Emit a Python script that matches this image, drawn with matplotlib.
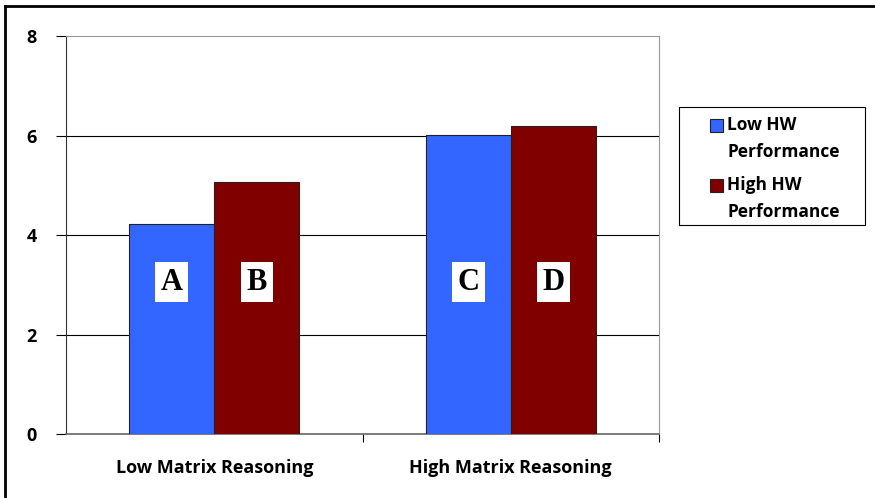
import matplotlib
matplotlib.use("Agg")
import matplotlib.pyplot as plt
from matplotlib.lines import Line2D
from matplotlib.patches import Rectangle
from matplotlib.legend_handler import HandlerBase
from matplotlib.container import BarContainer
import numpy as np

categories = ["Low Matrix Reasoning", "High Matrix Reasoning"]
series_names = ["Low HW\nPerformance", "High HW\nPerformance"]
low_hw = [4.22, 6.01]
high_hw = [5.07, 6.19]
bar_letters = [["A", "C"], ["B", "D"]]
letter_y = 3.05
colors = ["#3366FF", "#800000"]

plt.rcParams['font.family'] = ['Open Sans', 'DejaVu Sans']

fig = plt.figure(figsize=(8.75, 4.98), dpi=100)
ax = fig.add_axes([66/875, 1-434/498, (659-66)/875, (434-36)/498])

x = np.arange(len(categories))
w = 0.2875
for i, (vals, col) in enumerate(zip([low_hw, high_hw], colors)):
    pos = x + (i - 0.5) * w
    ax.bar(pos, vals, width=w, color=col, edgecolor="#222222", linewidth=0.8,
           label=series_names[i], zorder=3)
    for p, letter in zip(pos, bar_letters[i]):
        ax.text(p, letter_y, letter, ha="center", va="center", fontsize=22,
                fontweight="bold", family="Liberation Serif", zorder=4,
                bbox=dict(boxstyle="square,pad=0.18", fc="white", ec="none"))

ax.set_xlim(-0.5, 1.5)
ax.set_ylim(0, 8)
ax.set_yticks([0, 2, 4, 6, 8])
ax.set_yticklabels(["0", "2", "4", "6", "8"], fontsize=13, fontweight="bold")
ax.set_xticks(x)
ax.set_xticklabels(categories, fontsize=13, fontweight="bold")
ax.tick_params(axis="x", which="major", length=0, pad=18)
ax.set_xticks([0.5, 1.5], minor=True)
ax.tick_params(axis="x", which="minor", length=6, direction="out", color="black", width=0.8)
ax.tick_params(axis="y", length=7, direction="out", color="black", width=0.8, pad=14)

for yv in [2, 4, 6]:
    ax.axhline(yv, color="black", linewidth=0.8, zorder=1)

ax.spines["left"].set_color("#333333")
ax.spines["left"].set_linewidth(0.8)
ax.spines["bottom"].set_color("#666666")
ax.spines["bottom"].set_linewidth(1.2)
ax.spines["top"].set_color("#999999")
ax.spines["top"].set_linewidth(0.8)
ax.spines["right"].set_color("#999999")
ax.spines["right"].set_linewidth(0.8)


class TopBarHandler(HandlerBase):
    def __init__(self, shift=10.0, **kw):
        super().__init__(**kw)
        self.shift = shift

    def create_artists(self, legend, orig_handle, xdescent, ydescent, width,
                       height, fontsize, trans):
        fc = orig_handle.patches[0].get_facecolor()
        p = Rectangle((-xdescent, -ydescent + self.shift), width, height,
                      facecolor=fc, edgecolor="#222222", linewidth=0.8)
        p.set_transform(trans)
        return [p]


handles, labels = ax.get_legend_handles_labels()
leg = fig.legend(handles, labels, loc="upper left",
                 bbox_to_anchor=(710/875, 1-116/498),
                 frameon=False, prop={"weight": "bold", "size": 12.5},
                 handlelength=0.75, handleheight=0.75, handletextpad=0.25,
                 borderpad=0, labelspacing=0.85, borderaxespad=0,
                 handler_map={BarContainer: TopBarHandler(shift=10.0)})
for t in leg.get_texts():
    t.set_linespacing(1.65)

fig.add_artist(Rectangle((679/875, 1-225/498), (865-679)/875, (225-107)/498,
                         transform=fig.transFigure, fill=False,
                         edgecolor="black", linewidth=0.8))

# outer chart border (top and left visible)
fig.add_artist(Line2D([5/875, 5/875], [0, 1-6/498], transform=fig.transFigure,
                      color="black", linewidth=2))
fig.add_artist(Line2D([5/875, 1], [1-6/498, 1-6/498], transform=fig.transFigure,
                      color="black", linewidth=2))

fig.savefig("out.png", dpi=100)
